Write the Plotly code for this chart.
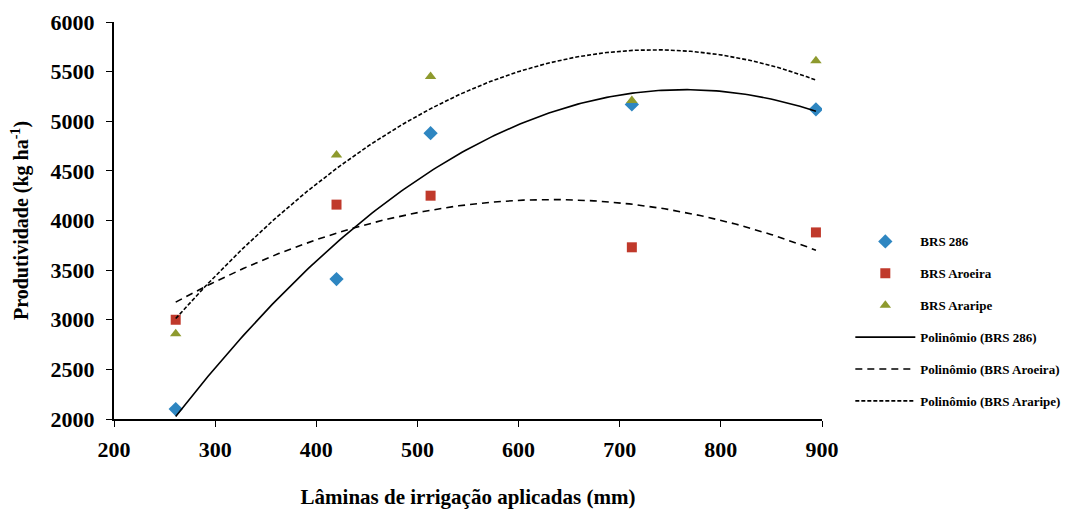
import numpy as np
import plotly.graph_objects as go

laminas = [261, 420, 513, 712, 894]
brs286 = [2100, 3410, 4880, 5170, 5120]
aroeira = [3000, 4160, 4250, 3730, 3880]
araripe = [2860, 4660, 5450, 5210, 5610]

x_ticks = [200, 300, 400, 500, 600, 700, 800, 900]
y_ticks = [2000, 2500, 3000, 3500, 4000, 4500, 5000, 5500, 6000]

FONT = "Liberation Serif"

xs = np.linspace(min(laminas), max(laminas), 200)
def fit(y):
    c = np.polyfit(laminas, y, 2)
    return np.polyval(c, xs)

fig = go.Figure()
fig.add_trace(go.Scatter(x=laminas, y=brs286, mode="markers", name="BRS 286", legendgroup="a",
                         marker=dict(symbol="diamond", size=11, color="#2E86C1")))
fig.add_trace(go.Scatter(x=laminas, y=aroeira, mode="markers", name="BRS Aroeira", legendgroup="b",
                         marker=dict(symbol="square", size=10, color="#C0392B")))
fig.add_trace(go.Scatter(x=laminas, y=araripe, mode="markers", name="BRS Araripe", legendgroup="c",
                         marker=dict(symbol="triangle-up", size=10, color="#8E9A2E")))
fig.add_trace(go.Scatter(x=xs, y=fit(brs286), mode="lines", name="Polinômio (BRS 286)", legendgroup="d",
                         line=dict(color="black", width=1.6)))
fig.add_trace(go.Scatter(x=xs, y=fit(aroeira), mode="lines", name="Polinômio (BRS Aroeira)", legendgroup="e",
                         line=dict(color="black", width=1.6, dash="7px,5px")))
fig.add_trace(go.Scatter(x=xs, y=fit(araripe), mode="lines", name="Polinômio (BRS Araripe)", legendgroup="f",
                         line=dict(color="black", width=1.6, dash="4px,2px")))

tickfont = dict(family=FONT, size=22, color="black", weight="bold")

fig.update_layout(
    width=1082, height=501,
    margin=dict(l=106, r=268, t=14, b=90),
    plot_bgcolor="white", paper_bgcolor="white",
    font=dict(family=FONT, color="black"),
    xaxis=dict(range=[200, 900], tickvals=x_ticks, showgrid=False, zeroline=False,
               showline=True, linecolor="black", linewidth=2, ticks="outside", ticklen=6,
               tickcolor="black", tickfont=tickfont, automargin=False, ticklabelstandoff=4,
               title=dict(text="<b>Lâminas de irrigação aplicadas (mm)</b>",
                          font=dict(family=FONT, size=21, color="black"), standoff=28)),
    yaxis=dict(range=[2000, 6000], tickvals=y_ticks, showgrid=False, zeroline=False,
               showline=True, linecolor="black", linewidth=2, ticks="outside", ticklen=6,
               tickcolor="black", tickfont=tickfont, automargin=False, ticklabelstandoff=7,
               title=dict(text="<b>Produtividade (kg ha<sup>-1</sup>)</b>",
                          font=dict(family=FONT, size=20, color="black"), standoff=20)),
    legend=dict(x=1.04, y=0.485, xanchor="left", yanchor="top", tracegroupgap=12,
                itemwidth=60, font=dict(family=FONT, size=13, color="black", weight="bold"),
                bgcolor="rgba(0,0,0,0)"),
)

fig.write_html("out.html")
